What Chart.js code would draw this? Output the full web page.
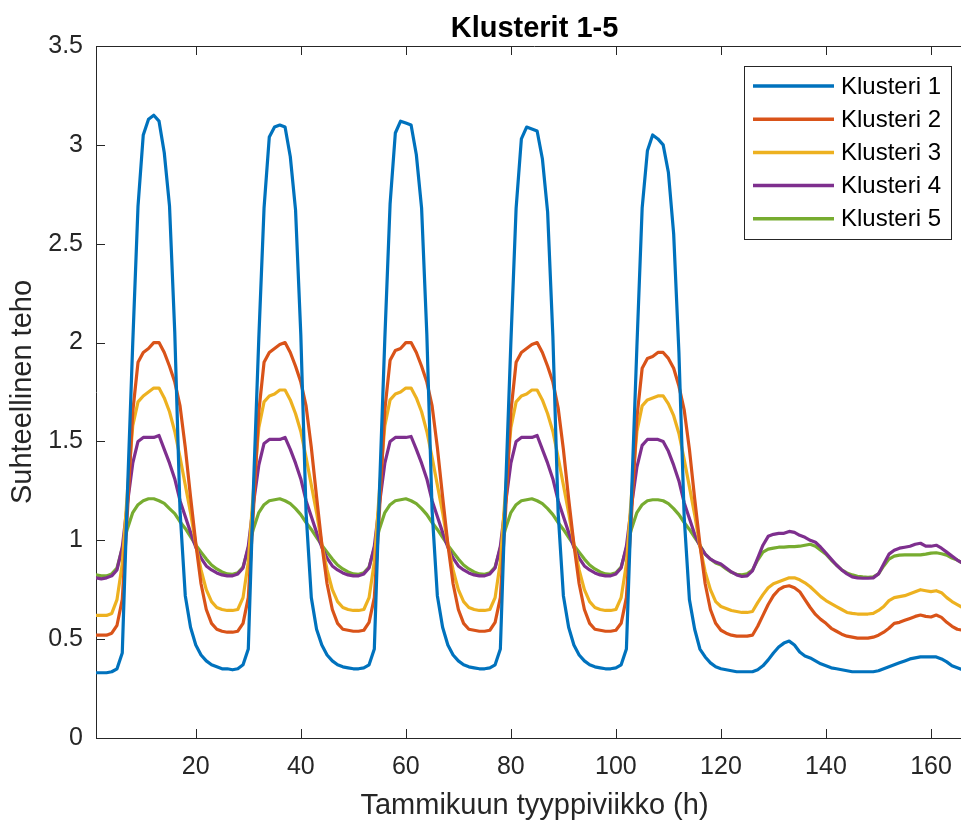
<!DOCTYPE html>
<html>
<head>
<meta charset="utf-8">
<script src="https://cdn.jsdelivr.net/npm/chart.js"></script>
<style>
  html, body { margin: 0; padding: 0; background: #fff; overflow: hidden; }
  #wrap { width: 975px; height: 822px; }
</style>
</head>
<body>
<div id="wrap"><canvas id="klusterit" width="975" height="822"></canvas></div>
<script>
  // tammikuun tyyppiviikko, tunnit 1..168
  const hours = [];
  for (let h = 1; h <= 168; h++) hours.push(h);

  const xTicks = [20, 40, 60, 80, 100, 120, 140, 160];
  const yTicks = [0, 0.5, 1, 1.5, 2, 2.5, 3, 3.5];

  const titleText = "Klusterit 1-5";
  const xTitle = "Tammikuun tyyppiviikko (h)";
  const yTitle = "Suhteellinen teho";

  const seriesNames = ["Klusteri 1", "Klusteri 2", "Klusteri 3", "Klusteri 4", "Klusteri 5"];
  const seriesColors = ["#0072BD", "#D95319", "#EDB120", "#7E2F8E", "#77AC30"];

  // one row = one day (24 h)
  const klusteri1 = [
    0.33, 0.33, 0.33, 0.335, 0.35, 0.43, 1.25, 2.0, 2.69, 3.05, 3.13, 3.15, 3.12, 2.96, 2.69, 2.05, 1.15, 0.72, 0.56, 0.47, 0.42, 0.39, 0.37, 0.36,
    0.35, 0.35, 0.345, 0.35, 0.37, 0.45, 1.28, 2.02, 2.68, 3.04, 3.09, 3.1, 3.09, 2.94, 2.67, 2.04, 1.14, 0.71, 0.55, 0.47, 0.42, 0.39, 0.37, 0.36,
    0.355, 0.35, 0.35, 0.355, 0.37, 0.45, 1.27, 2.02, 2.7, 3.06, 3.12, 3.11, 3.1, 2.95, 2.68, 2.04, 1.15, 0.72, 0.56, 0.47, 0.42, 0.39, 0.37, 0.36,
    0.355, 0.35, 0.35, 0.355, 0.37, 0.45, 1.26, 2.0, 2.68, 3.03, 3.09, 3.08, 3.07, 2.93, 2.66, 2.03, 1.14, 0.72, 0.56, 0.47, 0.42, 0.39, 0.37, 0.36,
    0.355, 0.35, 0.35, 0.355, 0.37, 0.45, 1.24, 1.98, 2.68, 2.97, 3.05, 3.03, 3.0, 2.86, 2.55, 1.95, 1.12, 0.7, 0.55, 0.45, 0.41, 0.38, 0.36, 0.35,
    0.345, 0.34, 0.335, 0.335, 0.335, 0.335, 0.345, 0.365, 0.395, 0.43, 0.46, 0.48, 0.49, 0.47, 0.435, 0.415, 0.405, 0.39, 0.375, 0.365, 0.355, 0.35, 0.345, 0.34,
    0.335, 0.335, 0.335, 0.335, 0.335, 0.34, 0.35, 0.36, 0.37, 0.38, 0.39, 0.4, 0.405, 0.41, 0.41, 0.41, 0.41, 0.4, 0.385, 0.365, 0.355, 0.345, 0.34, 0.335
  ];
  const klusteri2 = [
    0.52, 0.52, 0.52, 0.53, 0.57, 0.7, 1.15, 1.65, 1.9, 1.95, 1.97, 2.0, 2.0, 1.95, 1.88, 1.8, 1.68, 1.47, 1.22, 0.985, 0.78, 0.65, 0.58, 0.55,
    0.54, 0.535, 0.535, 0.54, 0.58, 0.71, 1.16, 1.65, 1.9, 1.95, 1.97, 1.99, 2.0, 1.95, 1.88, 1.8, 1.68, 1.47, 1.22, 0.98, 0.78, 0.65, 0.58, 0.55,
    0.545, 0.54, 0.54, 0.545, 0.585, 0.71, 1.16, 1.66, 1.91, 1.96, 1.97, 2.0, 2.0, 1.95, 1.88, 1.8, 1.68, 1.47, 1.22, 0.98, 0.78, 0.65, 0.58, 0.55,
    0.545, 0.54, 0.54, 0.545, 0.585, 0.71, 1.15, 1.65, 1.9, 1.95, 1.97, 1.99, 2.0, 1.95, 1.88, 1.8, 1.67, 1.46, 1.21, 0.98, 0.78, 0.65, 0.58, 0.55,
    0.545, 0.54, 0.54, 0.545, 0.58, 0.71, 1.14, 1.62, 1.87, 1.92, 1.93, 1.95, 1.95, 1.92, 1.87, 1.78, 1.66, 1.46, 1.21, 0.98, 0.78, 0.65, 0.58, 0.545,
    0.53, 0.52, 0.515, 0.515, 0.515, 0.52, 0.565, 0.62, 0.675, 0.72, 0.75, 0.765, 0.77, 0.76, 0.74, 0.7, 0.66, 0.625, 0.6, 0.58, 0.555, 0.54, 0.525, 0.515,
    0.51, 0.505, 0.505, 0.505, 0.51, 0.52, 0.535, 0.555, 0.58, 0.585, 0.595, 0.605, 0.615, 0.622, 0.615, 0.612, 0.622, 0.61, 0.585, 0.565, 0.55, 0.545, 0.54, 0.535
  ];
  const klusteri3 = [
    0.62, 0.62, 0.62, 0.63, 0.7, 0.88, 1.25, 1.58, 1.7, 1.73, 1.75, 1.77, 1.77, 1.72, 1.65, 1.55, 1.42, 1.28, 1.14, 0.98, 0.85, 0.75, 0.69, 0.66,
    0.65, 0.645, 0.645, 0.65, 0.71, 0.89, 1.26, 1.57, 1.7, 1.73, 1.74, 1.76, 1.76, 1.71, 1.64, 1.55, 1.42, 1.28, 1.14, 0.98, 0.85, 0.75, 0.69, 0.66,
    0.65, 0.645, 0.645, 0.65, 0.71, 0.89, 1.26, 1.58, 1.71, 1.74, 1.75, 1.77, 1.77, 1.72, 1.65, 1.55, 1.42, 1.28, 1.14, 0.98, 0.85, 0.75, 0.69, 0.66,
    0.65, 0.645, 0.645, 0.65, 0.71, 0.89, 1.26, 1.57, 1.7, 1.73, 1.74, 1.76, 1.76, 1.71, 1.64, 1.55, 1.42, 1.28, 1.14, 0.98, 0.85, 0.75, 0.69, 0.66,
    0.65, 0.645, 0.645, 0.65, 0.71, 0.88, 1.24, 1.55, 1.68, 1.71, 1.72, 1.73, 1.73, 1.69, 1.63, 1.54, 1.41, 1.27, 1.13, 0.97, 0.84, 0.75, 0.69, 0.665,
    0.655, 0.645, 0.64, 0.635, 0.635, 0.64, 0.685, 0.725, 0.76, 0.78, 0.79, 0.8, 0.81, 0.81, 0.8, 0.785, 0.765, 0.74, 0.715, 0.695, 0.68, 0.665, 0.65, 0.635,
    0.63, 0.627, 0.627, 0.627, 0.63, 0.645, 0.665, 0.695, 0.71, 0.715, 0.72, 0.73, 0.74, 0.75, 0.745, 0.74, 0.745, 0.735, 0.71, 0.69, 0.675, 0.66, 0.655, 0.65
  ];
  const klusteri4 = [
    0.81, 0.805, 0.81, 0.82, 0.85, 0.965, 1.19, 1.39, 1.5, 1.52, 1.52, 1.52, 1.53, 1.46, 1.39, 1.31, 1.2, 1.12, 1.04, 0.965, 0.91, 0.87, 0.85, 0.835,
    0.825, 0.82, 0.82, 0.83, 0.86, 0.97, 1.19, 1.38, 1.49, 1.51, 1.51, 1.51, 1.52, 1.46, 1.39, 1.31, 1.2, 1.12, 1.04, 0.965, 0.91, 0.87, 0.85, 0.835,
    0.825, 0.82, 0.82, 0.83, 0.86, 0.97, 1.19, 1.39, 1.5, 1.52, 1.52, 1.52, 1.525, 1.46, 1.39, 1.31, 1.2, 1.12, 1.04, 0.965, 0.91, 0.87, 0.85, 0.835,
    0.825, 0.82, 0.82, 0.83, 0.86, 0.97, 1.19, 1.39, 1.5, 1.52, 1.52, 1.52, 1.53, 1.46, 1.39, 1.31, 1.2, 1.12, 1.04, 0.965, 0.91, 0.87, 0.85, 0.835,
    0.825, 0.82, 0.82, 0.83, 0.86, 0.97, 1.18, 1.37, 1.48, 1.51, 1.51, 1.51, 1.5, 1.45, 1.38, 1.3, 1.19, 1.11, 1.03, 0.97, 0.93, 0.905, 0.89, 0.88,
    0.86, 0.84, 0.825, 0.817, 0.82, 0.845, 0.91, 0.975, 1.02, 1.03, 1.035, 1.035, 1.045, 1.04, 1.025, 1.015, 1.0, 0.99, 0.965, 0.935, 0.905, 0.875, 0.85, 0.83,
    0.815, 0.81, 0.808, 0.808, 0.81, 0.83, 0.88, 0.93, 0.95, 0.96, 0.965, 0.97, 0.98, 0.985, 0.97, 0.97, 0.975, 0.96, 0.94, 0.92, 0.9, 0.885, 0.875, 0.865
  ];
  const klusteri5 = [
    0.825, 0.82, 0.82, 0.83, 0.86, 0.96, 1.06, 1.14, 1.18, 1.2, 1.21, 1.21, 1.2, 1.187, 1.16, 1.135, 1.094, 1.06, 1.018, 0.976, 0.94, 0.905, 0.875, 0.855,
    0.84, 0.83, 0.828, 0.835, 0.865, 0.96, 1.06, 1.14, 1.18, 1.2, 1.205, 1.21, 1.2, 1.185, 1.16, 1.13, 1.09, 1.055, 1.015, 0.975, 0.94, 0.905, 0.875, 0.855,
    0.84, 0.83, 0.828, 0.835, 0.865, 0.96, 1.06, 1.14, 1.18, 1.2, 1.205, 1.21, 1.2, 1.185, 1.16, 1.13, 1.09, 1.055, 1.015, 0.975, 0.94, 0.905, 0.875, 0.855,
    0.84, 0.83, 0.828, 0.835, 0.865, 0.96, 1.06, 1.14, 1.18, 1.2, 1.205, 1.21, 1.2, 1.185, 1.16, 1.13, 1.09, 1.055, 1.015, 0.975, 0.94, 0.905, 0.875, 0.855,
    0.84, 0.83, 0.828, 0.835, 0.865, 0.96, 1.06, 1.14, 1.18, 1.2, 1.205, 1.205, 1.2, 1.185, 1.16, 1.13, 1.09, 1.055, 1.015, 0.975, 0.93, 0.905, 0.885, 0.875,
    0.855, 0.838, 0.828, 0.825, 0.83, 0.85, 0.9, 0.94, 0.955, 0.96, 0.965, 0.965, 0.968, 0.968, 0.97, 0.975, 0.98, 0.97, 0.95, 0.93, 0.9, 0.875, 0.85, 0.835,
    0.825, 0.818, 0.815, 0.813, 0.815, 0.83, 0.87, 0.905, 0.92, 0.925, 0.926, 0.926, 0.926, 0.926, 0.93, 0.935, 0.937, 0.932, 0.925, 0.91, 0.9, 0.885, 0.875, 0.865
  ];
  const seriesData = [klusteri1, klusteri2, klusteri3, klusteri4, klusteri5];

  const FONT = '"Liberation Sans", Arial, Helvetica, sans-serif';
  const AXIS_COLOR = "#262626";
  Chart.defaults.font.family = FONT;
  Chart.defaults.color = AXIS_COLOR;

  // matlab-like box: top line, inward ticks, title and legend box
  const matlabAxes = {
    id: "matlabAxes",
    afterDraw(chart) {
      const { ctx, chartArea: a, scales: { x, y } } = chart;
      ctx.save();
      ctx.strokeStyle = AXIS_COLOR;
      ctx.lineWidth = 1;
      ctx.beginPath();
      ctx.moveTo(a.left, a.top + 0.5);
      ctx.lineTo(a.right, a.top + 0.5);
      xTicks.forEach(v => {
        const px = Math.round(x.getPixelForValue(v)) + 0.5;
        ctx.moveTo(px, a.bottom);
        ctx.lineTo(px, a.bottom - 9);
        ctx.moveTo(px, a.top);
        ctx.lineTo(px, a.top + 9);
      });
      yTicks.forEach(v => {
        const py = Math.round(y.getPixelForValue(v)) + 0.5;
        ctx.moveTo(a.left, py);
        ctx.lineTo(a.left + 9, py);
      });
      ctx.stroke();

      ctx.fillStyle = "#000";
      ctx.font = "bold 29px " + FONT;
      ctx.textAlign = "center";
      ctx.textBaseline = "alphabetic";
      ctx.fillText(titleText, (a.left + a.right) / 2, 37);

      // legend
      const lx = 744, ly = 66, lw = 207, lh = 173;
      ctx.fillStyle = "#fff";
      ctx.fillRect(lx, ly, lw, lh);
      ctx.strokeStyle = "#262626";
      ctx.strokeRect(lx + 0.5, ly + 0.5, lw, lh);
      ctx.font = "24px " + FONT;
      ctx.textAlign = "left";
      ctx.textBaseline = "middle";
      seriesNames.forEach((name, i) => {
        const yy = 86 + i * 33.2;
        ctx.strokeStyle = seriesColors[i];
        ctx.lineWidth = 3.5;
        ctx.beginPath();
        ctx.moveTo(753, yy);
        ctx.lineTo(834, yy);
        ctx.stroke();
        ctx.fillStyle = "#000";
        ctx.fillText(name, 841, yy + 1);
      });
      ctx.restore();
    }
  };

  new Chart(document.getElementById("klusterit"), {
    type: "line",
    data: {
      labels: hours,
      datasets: seriesData.map((d, i) => ({
        label: seriesNames[i],
        data: d,
        borderColor: seriesColors[i],
        backgroundColor: seriesColors[i],
        borderWidth: 3.2,
        pointRadius: 0,
        tension: 0,
        fill: false,
        borderJoinStyle: "round",
        borderCapStyle: "round"
      }))
    },
    options: {
      responsive: false,
      animation: false,
      devicePixelRatio: 1,
      layout: { padding: { top: 46, right: 2, left: 0, bottom: 0 } },
      plugins: {
        legend: { display: false },
        title: { display: false },
        tooltip: { enabled: false }
      },
      scales: {
        x: {
          type: "linear",
          min: 1,
          max: 168,
          afterFit: s => { s.height = 84; },
          afterBuildTicks: s => { s.ticks = xTicks.map(v => ({ value: v })); },
          grid: { display: false, drawTicks: false },
          border: { display: true, color: AXIS_COLOR, width: 1 },
          ticks: { font: { size: 25 }, color: AXIS_COLOR, padding: 14, maxRotation: 0, autoSkip: false },
          title: { display: true, text: xTitle, font: { size: 29 }, color: AXIS_COLOR, padding: { top: 0, bottom: -1 } }
        },
        y: {
          min: 0,
          max: 3.5,
          afterFit: s => { s.width = 96; },
          afterBuildTicks: s => { s.ticks = yTicks.map(v => ({ value: v })); },
          grid: { display: false, drawTicks: false },
          border: { display: true, color: AXIS_COLOR, width: 1 },
          ticks: { font: { size: 25 }, color: AXIS_COLOR, padding: 13, callback: v => String(v) },
          title: { display: true, text: yTitle, font: { size: 29 }, color: AXIS_COLOR, padding: { top: 6, bottom: 0 } }
        }
      }
    },
    plugins: [matlabAxes]
  });
</script>
</body>
</html>
